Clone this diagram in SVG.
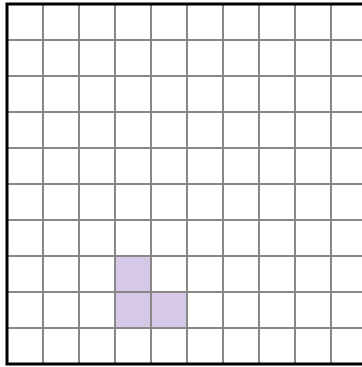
<svg xmlns="http://www.w3.org/2000/svg" width="362" height="367" viewBox="0 0 362 367">
<style>
.cell{fill:#d5c9e7}
.g{stroke:#888;stroke-width:2;fill:none}
.b{stroke:#000;stroke-width:3;fill:none}
</style>
<rect width="362" height="367" fill="#fff"/>
<g id="shaded">
<rect class="cell" x="115" y="256" width="36" height="36"/>
<rect class="cell" x="115" y="292" width="36" height="36"/>
<rect class="cell" x="151" y="292" width="36" height="36"/>
</g>
<g id="grid">
<path class="g" d="M43 4V364M79 4V364M115 4V364M151 4V364M187 4V364M223 4V364M259 4V364M295 4V364M331 4V364"/>
<path class="g" d="M7 40H367M7 76H367M7 112H367M7 148H367M7 184H367M7 220H367M7 256H367M7 292H367M7 328H367"/>
</g>
<g id="border">
<rect class="b" x="7" y="4" width="360" height="360"/>
</g>
</svg>
